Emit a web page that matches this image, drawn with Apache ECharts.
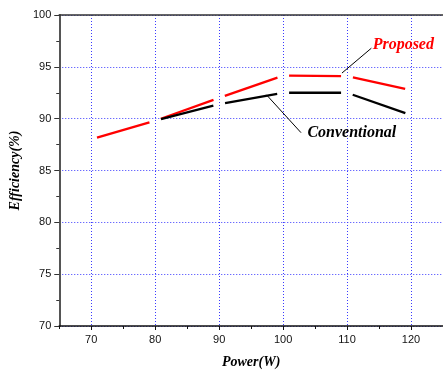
<!DOCTYPE html>
<html>
<head>
<meta charset="utf-8">
<script src="https://cdn.jsdelivr.net/npm/echarts@6/dist/echarts.min.js"></script>
<style>
html,body{margin:0;padding:0;background:#fff;}
#c{width:443px;height:374px;}
</style>
</head>
<body>
<div id="c"></div>
<script>
// ---- data ----
const powerW = [70, 80, 90, 100, 110, 120];
const proposed = [88.0, 89.8, 92.0, 94.15, 94.1, 92.75];
const conventional = [null, 89.8, 91.4, 92.5, 92.5, 90.35];
const yTicks = [70, 75, 80, 85, 90, 95, 100];
const xTickLabels = [70, 80, 90, 100, 110, 120];
// annotations in data coordinates
const annProposedText = [114.0, 97.1];
const annProposedLine = [[113.8, 96.8], [109.2, 94.4]];
const annConvText = [103.8, 88.67];
const annConvLine = [[97.4, 92.3], [102.8, 88.65]];

function segments(xs, ys) {
  const out = [];
  for (let i = 0; i < xs.length - 1; i++) {
    if (ys[i] == null || ys[i + 1] == null) continue;
    out.push([xs[i], ys[i], xs[i + 1], ys[i + 1]]);
  }
  return out;
}

function gapRenderer(color) {
  return function (params, api) {
    const p0 = api.coord([api.value(0), api.value(1)]);
    const p1 = api.coord([api.value(2), api.value(3)]);
    const dx = p1[0] - p0[0], dy = p1[1] - p0[1];
    const len = Math.sqrt(dx * dx + dy * dy);
    const g = 6;
    const ux = dx / len, uy = dy / len;
    return {
      type: 'line',
      shape: { x1: p0[0] + ux * g, y1: p0[1] + uy * g, x2: p1[0] - ux * g, y2: p1[1] - uy * g },
      style: { stroke: color, lineWidth: 2.3 }
    };
  };
}

const chart = echarts.init(document.getElementById('c'), null, { renderer: 'canvas' });
const serif = "'Liberation Serif', 'Times New Roman', serif";
const sans = "'Liberation Sans', Arial, sans-serif";

chart.setOption({
  animation: false,
  backgroundColor: '#fff',
  grid: { left: 58, top: 15, right: -2, bottom: 48, containLabel: false },
  xAxis: [{
    type: 'value', min: 65, max: 125, splitNumber: 6, position: 'bottom',
    name: 'Power(W)', nameLocation: 'middle', nameGap: 29,
    nameTextStyle: { fontFamily: serif, fontWeight: 'bold', fontStyle: 'italic', fontSize: 14, color: '#000' },
    axisLine: { show: true, onZero: false, lineStyle: { color: '#111', width: 1.6 } },
    axisTick: { show: true, inside: false, length: 4, lineStyle: { color: '#111', width: 1 } },
    minorTick: { show: false },
    axisLabel: {
      show: true, showMinLabel: false, showMaxLabel: false, margin: 8,
      fontFamily: sans, fontSize: 11, color: '#111',
      formatter: function (v) { return xTickLabels.indexOf(v) >= 0 ? String(v) : ''; }
    },
    splitLine: { show: true, lineStyle: { color: '#3a3aff', width: 1, type: [1, 2] } }
  }, {
    type: 'value', min: 65, max: 125, position: 'top',
    axisLine: { show: true, onZero: false, lineStyle: { color: '#333', width: 1.6 } },
    axisTick: { show: false }, axisLabel: { show: false }, splitLine: { show: false }
  }, {
    // minor ticks at 65, 75, ... (ticks counted from min)
    type: 'value', min: 65, max: 125, interval: 10, position: 'bottom',
    axisLine: { show: false, onZero: false },
    axisTick: { show: true, inside: false, length: 3, lineStyle: { color: '#111', width: 1 } },
    axisLabel: { show: false }, splitLine: { show: false }
  }],
  yAxis: {
    type: 'value', min: yTicks[0], max: yTicks[yTicks.length - 1], interval: 5,
    name: 'Efficiency(%)', nameLocation: 'middle', nameGap: 37, nameRotate: 90,
    nameTextStyle: { fontFamily: serif, fontWeight: 'bold', fontStyle: 'italic', fontSize: 14, color: '#000' },
    axisLine: { show: true, onZero: false, lineStyle: { color: '#555', width: 2 } },
    axisTick: { show: true, inside: false, length: 5, lineStyle: { color: '#333', width: 1 } },
    minorTick: { show: true, splitNumber: 2, length: 3, lineStyle: { color: '#333', width: 1 } },
    axisLabel: { fontFamily: sans, fontSize: 11, color: '#111', margin: 8 },
    splitLine: { show: true, lineStyle: { color: '#3a3aff', width: 1, type: [1, 2] } }
  },
  series: [{
    type: 'custom', name: 'Proposed', xAxisIndex: 0,
    renderItem: gapRenderer('#ff0000'),
    encode: { x: [0, 2], y: [1, 3] },
    data: segments(powerW, proposed), z: 3
  }, {
    type: 'custom', name: 'Conventional', xAxisIndex: 0,
    renderItem: gapRenderer('#000000'),
    encode: { x: [0, 2], y: [1, 3] },
    data: segments(powerW, conventional), z: 3
  }]
});

function px(p) { return chart.convertToPixel({ gridIndex: 0 }, p); }
const pt = px(annProposedText), ct = px(annConvText);
const pl0 = px(annProposedLine[0]), pl1 = px(annProposedLine[1]);
const cl0 = px(annConvLine[0]), cl1 = px(annConvLine[1]);
chart.setOption({
  graphic: [
    { type: 'line', shape: { x1: pl0[0], y1: pl0[1], x2: pl1[0], y2: pl1[1] }, style: { stroke: '#000', lineWidth: 1 }, z: 10 },
    { type: 'line', shape: { x1: cl0[0], y1: cl0[1], x2: cl1[0], y2: cl1[1] }, style: { stroke: '#000', lineWidth: 1 }, z: 10 },
    { type: 'text', x: pt[0], y: pt[1], style: { text: 'Proposed', fill: '#ff0000', font: "bold italic 16px " + serif, textAlign: 'left', textVerticalAlign: 'middle' }, z: 10 },
    { type: 'text', x: ct[0], y: ct[1], style: { text: 'Conventional', fill: '#000', font: "bold italic 16px " + serif, textAlign: 'left', textVerticalAlign: 'middle' }, z: 10 }
  ]
});
</script>
</body>
</html>
